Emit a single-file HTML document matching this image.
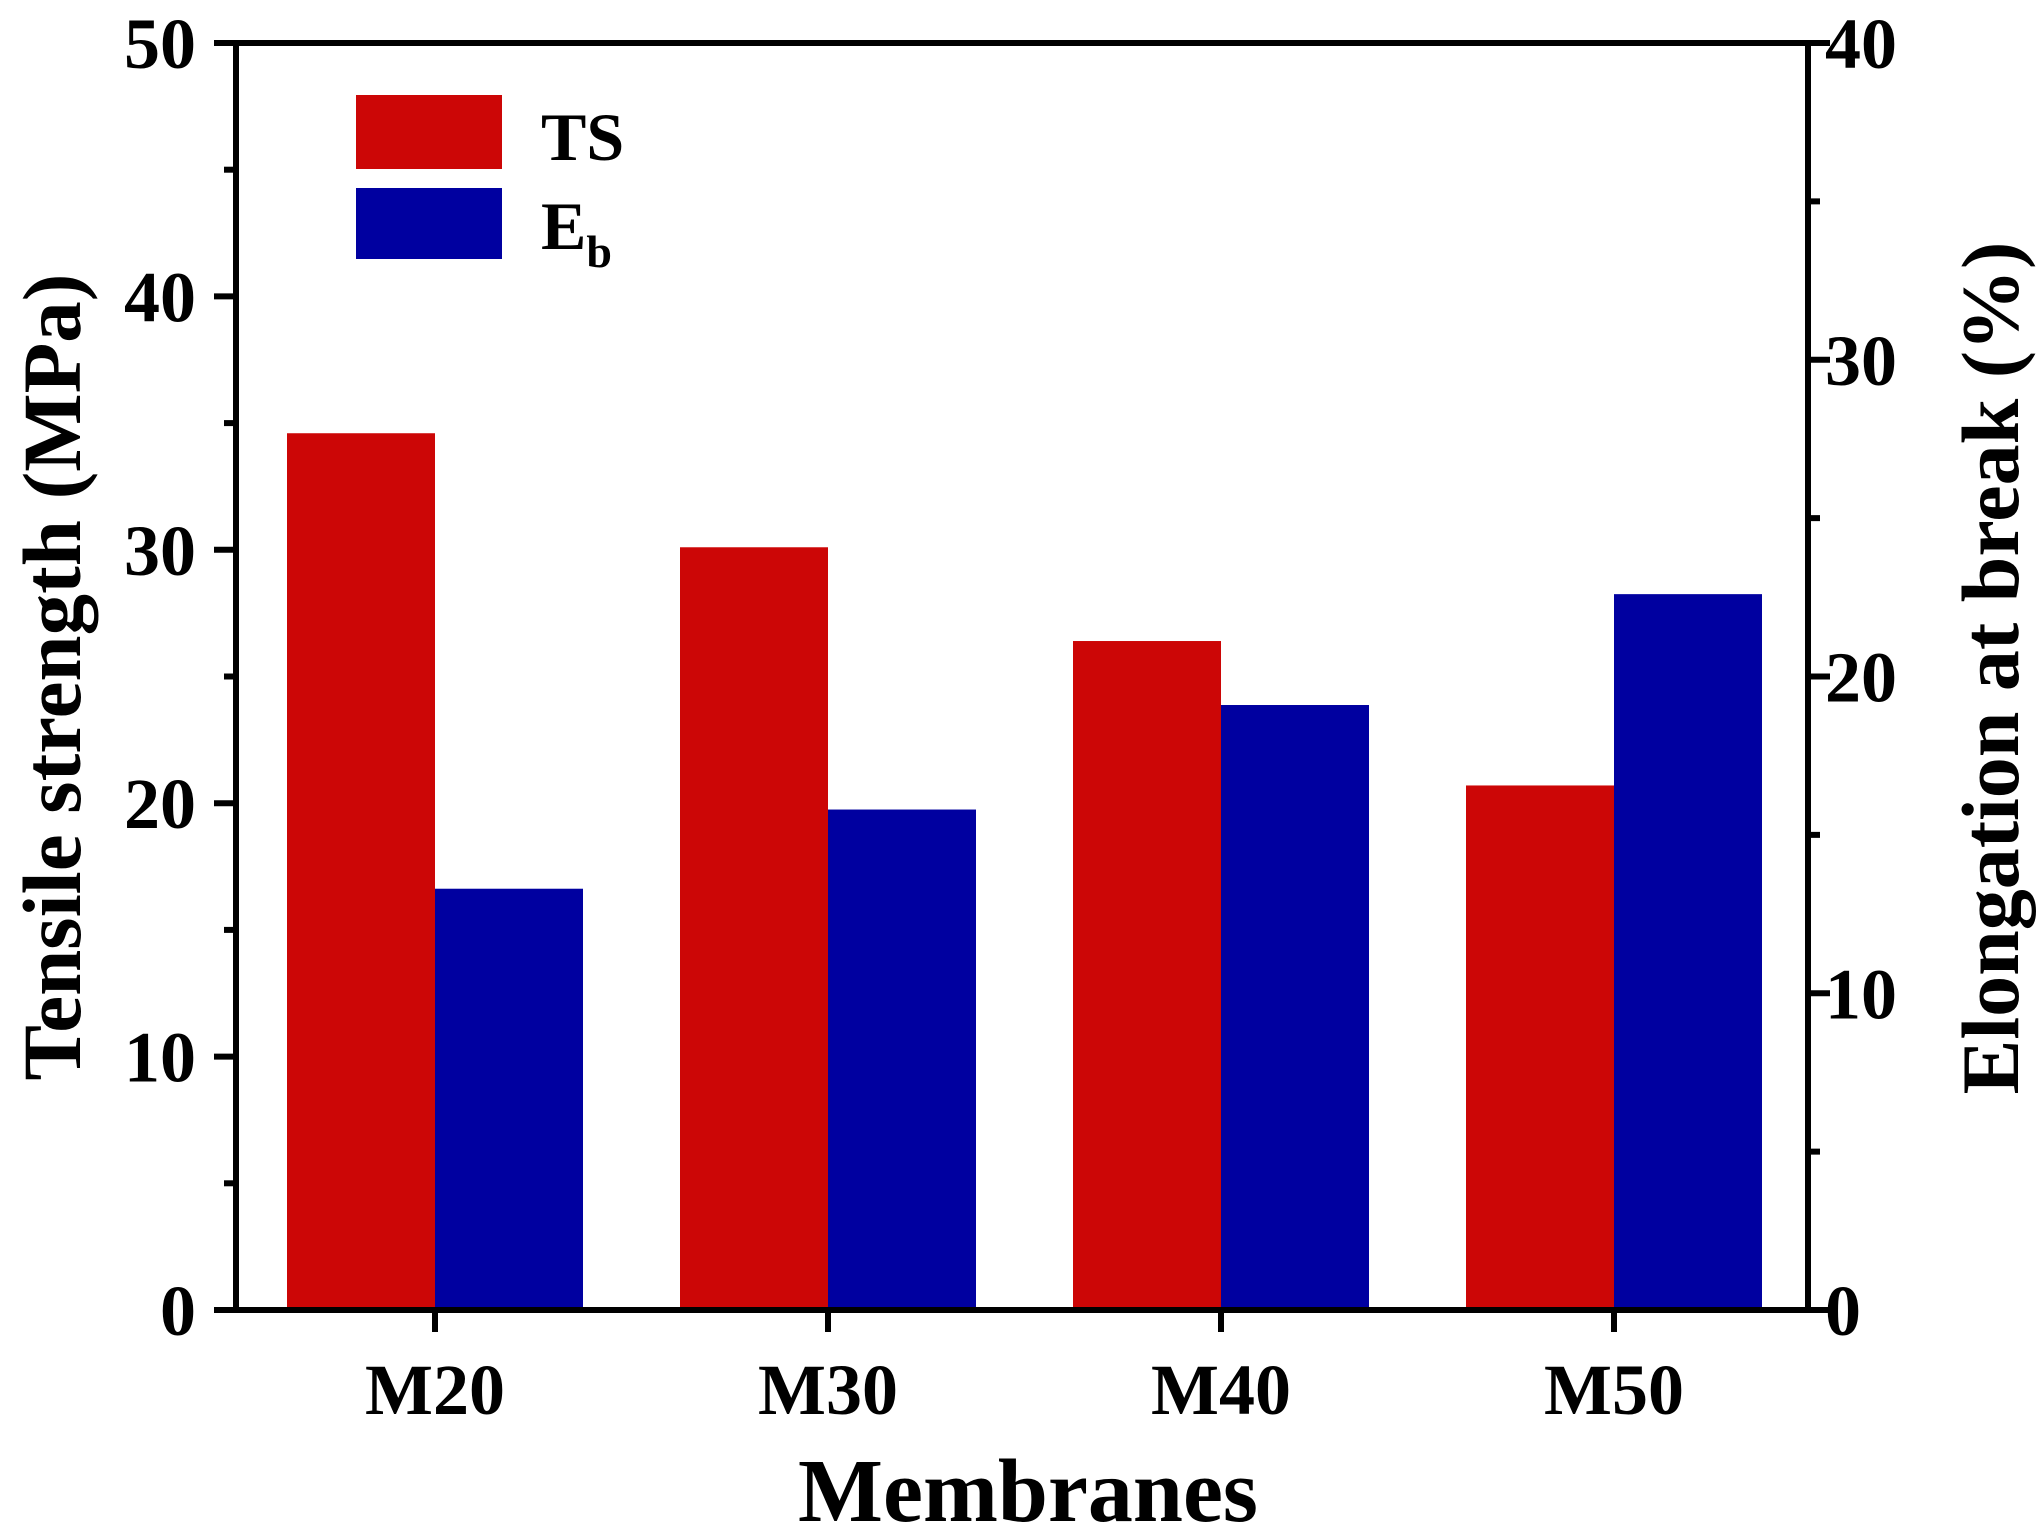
<!DOCTYPE html>
<html><head><meta charset="utf-8"><style>
html,body{margin:0;padding:0;background:#fff;}
svg{display:block;font-family:"Liberation Serif",serif;font-weight:bold;}
</style></head><body>
<svg id="chart" width="2044" height="1535" viewBox="0 0 2044 1535" xmlns="http://www.w3.org/2000/svg">
<g id="bars"></g>
<g id="axes"></g>
<text x="0" y="0" font-size="83" text-anchor="middle" transform="translate(80,677) rotate(-90)">Tensile strength (MPa)</text>
<text x="0" y="0" font-size="82" text-anchor="middle" transform="translate(2018,668) rotate(-90)">Elongation at break (%)</text>
<text x="1028" y="1521" font-size="90" text-anchor="middle">Membranes</text>
<g>
<rect x="356" y="95" width="146" height="74" fill="#cc0606"/>
<text x="541" y="160" font-size="68">TS</text>
<rect x="356" y="188" width="146" height="71" fill="#0000a0"/>
<text x="541" y="249" font-size="68">E<tspan font-size="46" dy="18">b</tspan></text>
</g>
</svg>
<script>
const categories = ["M20","M30","M40","M50"];
const tsValues = [34.6, 30.1, 26.4, 20.7];
const ebValues = [13.3, 15.8, 19.1, 22.6];
const leftTicks = [0,10,20,30,40,50];
const rightTicks = [0,10,20,30,40];

const NS="http://www.w3.org/2000/svg";
const L=236,R=1808,T=43,B=1310;
const yL=v=>B-(v/50)*(B-T);
const yR=v=>B-(v/40)*(B-T);
const step=(1614-435)/3;
const xC=i=>435+i*step;
const bw=148;
function mk(tag,attrs,parent){const e=document.createElementNS(NS,tag);for(const k in attrs)e.setAttribute(k,attrs[k]);parent.appendChild(e);return e;}
const bars=document.getElementById('bars'), axes=document.getElementById('axes');
categories.forEach((c,i)=>{
  let r=mk('rect',{x:xC(i)-bw,y:yL(tsValues[i]),width:bw,height:B-yL(tsValues[i]),fill:'#cc0606'},bars);
  
  
  let b=mk('rect',{x:xC(i),y:yR(ebValues[i]),width:bw,height:B-yR(ebValues[i]),fill:'#0000a0'},bars);
  
  
  let t=mk('line',{x1:xC(i),x2:xC(i),y1:B,y2:B+22,stroke:'#000','stroke-width':6},axes);
  
  
  let lb=mk('text',{x:xC(i),y:1414,'font-size':72,'text-anchor':'middle'},axes);
  lb.textContent=c;
  
  
});
mk('rect',{x:L,y:T,width:R-L,height:B-T,fill:'none',stroke:'#000','stroke-width':6},axes);
leftTicks.forEach(v=>{
  let t=mk('line',{x1:L-22,x2:L,y1:yL(v),y2:yL(v),stroke:'#000','stroke-width':6},axes);
  
  
  let lb=mk('text',{x:196,y:yL(v)+25,'font-size':72,'text-anchor':'end'},axes);
  lb.textContent=v;
  
  
  if(v<50){let m=mk('line',{x1:L-12,x2:L,y1:yL(v+5),y2:yL(v+5),stroke:'#000','stroke-width':6},axes);
  
  }
});
rightTicks.forEach(v=>{
  let t=mk('line',{x1:R,x2:R+22,y1:yR(v),y2:yR(v),stroke:'#000','stroke-width':6},axes);
  
  
  let lb=mk('text',{x:1825,y:yR(v)+25,'font-size':72,'text-anchor':'start'},axes);
  lb.textContent=v;
  
  
  if(v<40){let m=mk('line',{x1:R,x2:R+12,y1:yR(v+5),y2:yR(v+5),stroke:'#000','stroke-width':6},axes);
  
  }
});
</script>
</body></html>
